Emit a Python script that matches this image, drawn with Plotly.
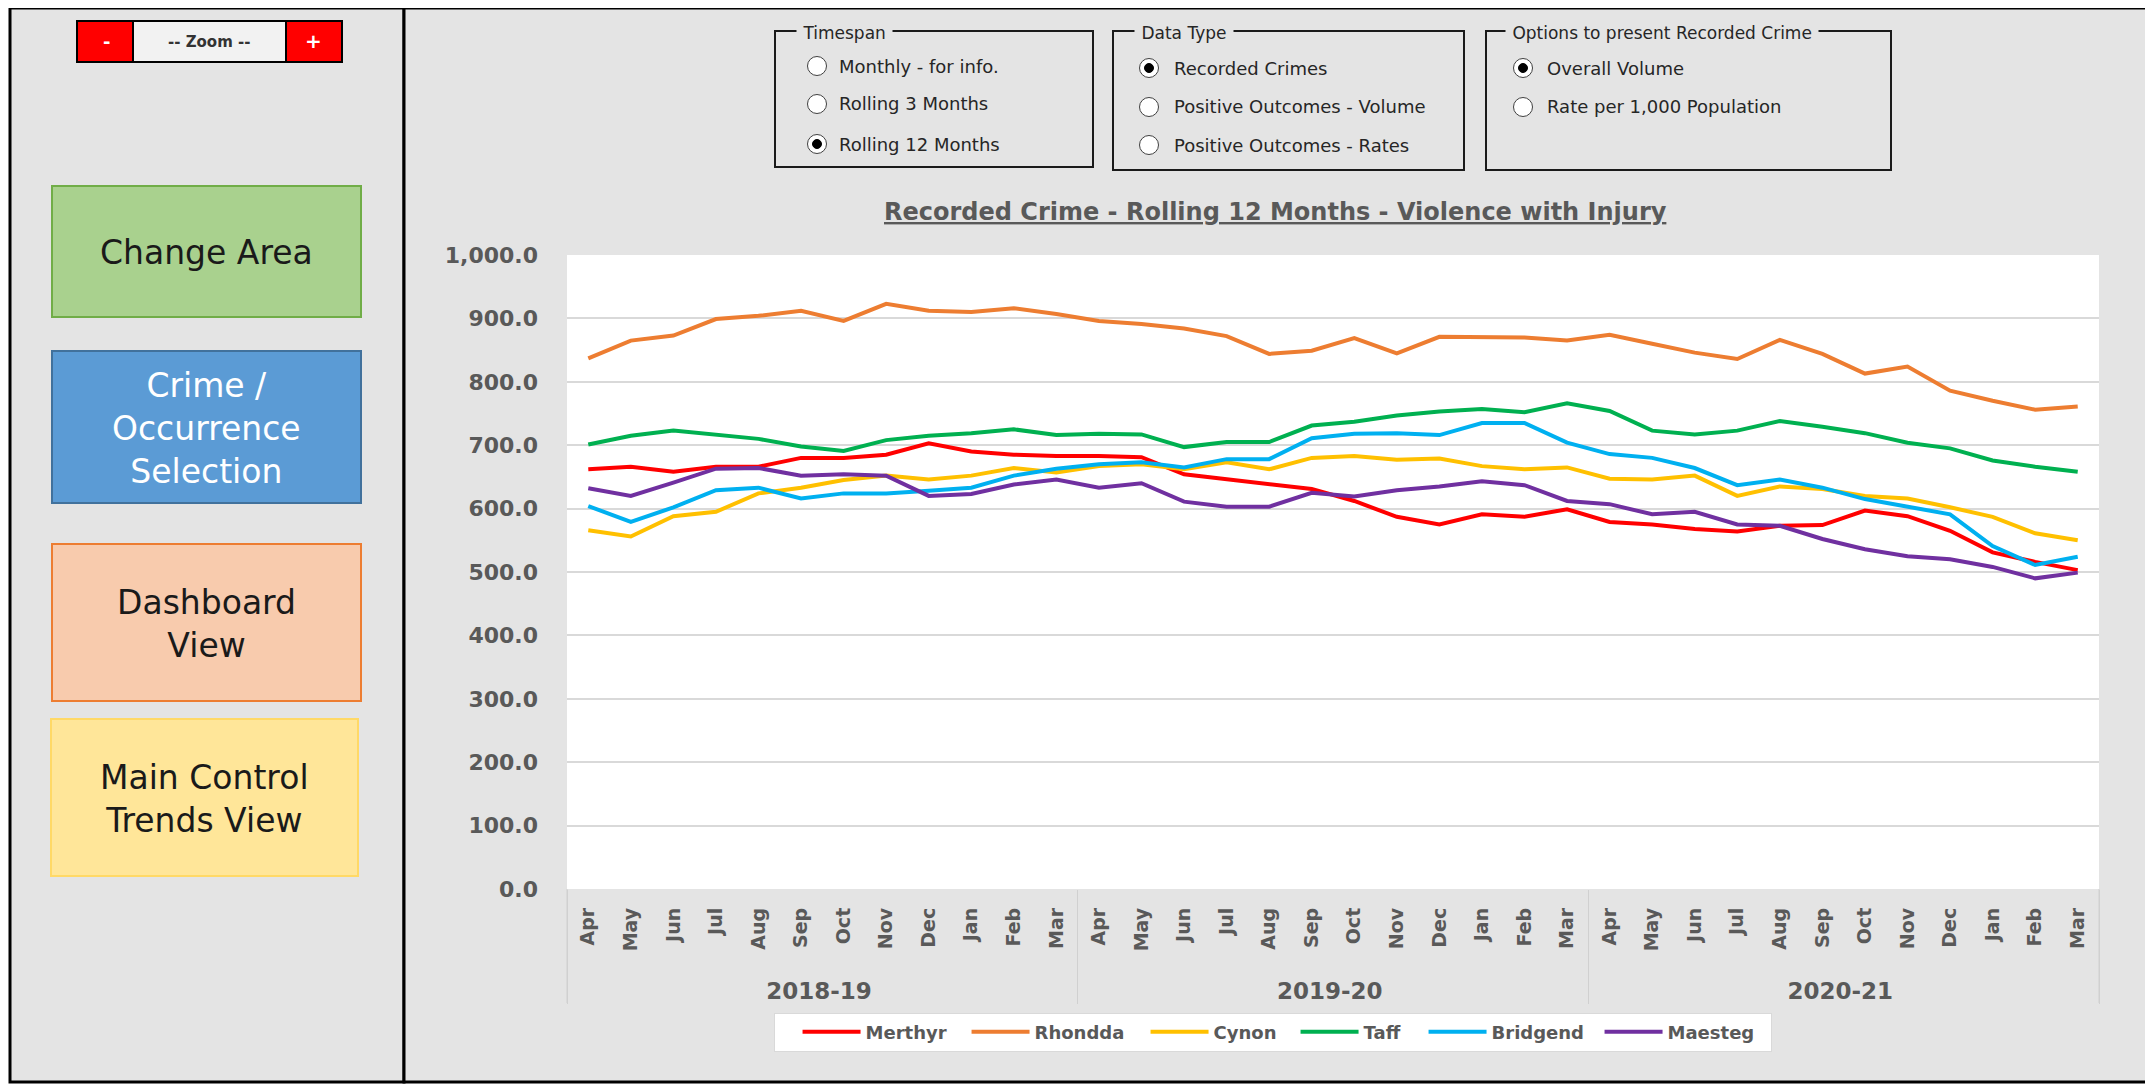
import plotly.graph_objects as go

# ---------------- data ----------------
months = ["Apr", "May", "Jun", "Jul", "Aug", "Sep", "Oct", "Nov", "Dec", "Jan", "Feb", "Mar"]
years = ["2018-19", "2019-20", "2020-21"]

merthyr = [662, 666, 658, 666, 666, 680, 680, 685, 703, 690, 685, 683,
           683, 681, 654, 646, 638, 631, 612, 587, 575, 591, 587, 599,
           579, 575, 568, 564, 573, 574, 597, 588, 565, 531, 516, 503]
rhondda = [837, 865, 873, 899, 904, 912, 896, 923, 912, 910, 916, 907,
           896, 891, 884, 872, 844, 849, 869, 845, 871, 871, 870, 865,
           874, 860, 846, 836, 866, 844, 813, 824, 786, 770, 756, 761]
cynon = [566, 556, 588, 595, 624, 633, 645, 652, 646, 652, 664, 657,
         667, 670, 662, 673, 662, 680, 683, 677, 679, 667, 662, 665,
         647, 646, 652, 620, 635, 631, 620, 616, 602, 587, 561, 550]
taff = [701, 715, 723, 717, 710, 698, 691, 708, 715, 719, 725, 716,
        718, 717, 697, 705, 705, 731, 737, 747, 753, 757, 752, 766,
        754, 723, 717, 723, 738, 729, 719, 704, 695, 676, 666, 658]
bridgend = [604, 579, 602, 629, 633, 616, 624, 624, 628, 633, 652, 663,
            670, 673, 665, 678, 678, 711, 718, 719, 716, 735, 735, 704,
            686, 680, 664, 637, 646, 633, 615, 603, 591, 541, 511, 524]
maesteg = [632, 620, 641, 663, 664, 652, 654, 652, 620, 623, 638, 646,
           633, 640, 611, 603, 603, 625, 619, 629, 635, 643, 637, 612,
           607, 591, 595, 575, 573, 552, 536, 525, 520, 508, 490, 499]

series_names = ["Merthyr", "Rhondda", "Cynon", "Taff", "Bridgend", "Maesteg"]
series_values = [merthyr, rhondda, cynon, taff, bridgend, maesteg]
series_colors = ["#FF0000", "#ED7D31", "#FFC000", "#00B050", "#00B0F0", "#7030A0"]
legend_entry_widths = [96, 106, 77, 55, 103, 98]   # legend spacing (px), styling only

chart_title = "Recorded Crime - Rolling 12 Months - Violence with Injury"

# ---------------- geometry (reference pixels) ----------------
OFF = 8                       # page body margin offset
W, H = 2153 - OFF, 1086 - OFF
PL, PR, PT, PB = 567, 2099, 255, 889      # plot area in reference pixels
PW, PH = PR - PL, PB - PT


def px(x):
    return (x - PL) / PW


def py(y):
    return (PB - y) / PH


FONT = "DejaVu Sans"
GREY_TXT = "#595959"
PANEL = "#E4E4E4"

x_years = ['<br><span style="font-size:23px">%s</span>' % yr for yr in years for _ in months]
x_months = months * len(years)
n_cat = len(x_months)

fig = go.Figure()
for name, vals, col, lw in zip(series_names, series_values, series_colors, legend_entry_widths):
    fig.add_trace(go.Scatter(
        x=[x_years, x_months], y=vals, name=name, mode="lines",
        line=dict(color=col, width=4), legendwidth=lw,
    ))

shapes = []
annotations = []


def rect(x0, y0, x1, y1, fill, line_color=None, line_width=0, layer="below"):
    shapes.append(dict(type="rect", xref="paper", yref="paper",
                       x0=px(x0), x1=px(x1), y0=py(y1), y1=py(y0),
                       fillcolor=fill, layer=layer,
                       line=dict(color=line_color or fill, width=line_width)))


def circle(cx, cy, r, fill, line_color, line_width=1):
    shapes.append(dict(type="circle", xref="paper", yref="paper",
                       x0=px(cx - r), x1=px(cx + r), y0=py(cy + r), y1=py(cy - r),
                       fillcolor=fill, layer="above",
                       line=dict(color=line_color, width=line_width)))


def text(x, y, s, size, color="#000000", weight="normal", xanchor="center", bg=None):
    a = dict(xref="paper", yref="paper", x=px(x), y=py(y), text=s, showarrow=False,
             xanchor=xanchor, yanchor="middle",
             font=dict(family=FONT, size=size, color=color, weight=weight))
    if bg:
        a["bgcolor"] = bg
    annotations.append(a)


# panels / frame
rect(10, 8, 404, 1082, PANEL, "#000000", 3)
rect(404, 8, 2149, 1082, PANEL, "#000000", 3)
# plot area background
rect(PL, PT, PR, PB, "#FFFFFF")
# outer edges of the category axis band
for xe in (0, 1):
    shapes.append(dict(type="line", xref="paper", yref="paper", x0=xe, x1=xe,
                       y0=py(1003), y1=0, line=dict(color="#D0D0D0", width=1), layer="below"))

# zoom control
rect(77, 21, 342, 62, "#F2F2F2", "#000000", 2)
rect(78, 22, 133, 61, "#FF0000", "#FF0000", 0)
rect(286, 22, 341, 61, "#FF0000", "#FF0000", 0)
for xx in (133, 286):
    shapes.append(dict(type="line", xref="paper", yref="paper", x0=px(xx), x1=px(xx),
                       y0=py(62), y1=py(21), line=dict(color="#000000", width=2), layer="below"))
text(106, 41, "<b>-</b>", 18, "#FFFFFF", "bold")
text(313, 41, "<b>+</b>", 20, "#FFFFFF", "bold")
text(209, 42, "-- Zoom --", 15, "#333333", "bold")

# navigation buttons
buttons = [
    (52, 186, 361, 317, "#A9D18E", "#70AD47", "Change Area", "#1A1A1A"),
    (52, 351, 361, 503, "#5B9BD5", "#41719C", "Crime /<br>Occurrence<br>Selection", "#FFFFFF"),
    (52, 544, 361, 701, "#F8CBAD", "#ED7D31", "Dashboard<br>View", "#1A1A1A"),
    (51, 719, 358, 876, "#FFE699", "#FFD966", "Main Control<br>Trends View", "#1A1A1A"),
]
for x0, y0, x1, y1, fill, border, label, tcol in buttons:
    rect(x0, y0, x1, y1, fill, border, 2)
    text((x0 + x1) / 2, (y0 + y1) / 2 + 1, label, 33, tcol)

# option group boxes
groups = [
    (775, 31, 1093, 167, "Timespan", 796, 817, 837,
     [("Monthly - for info.", 66, False), ("Rolling 3 Months", 104, False), ("Rolling 12 Months", 144, True)]),
    (1113, 31, 1464, 170, "Data Type", 1134, 1149, 1172,
     [("Recorded Crimes", 68, True), ("Positive Outcomes - Volume", 107, False), ("Positive Outcomes - Rates", 145, False)]),
    (1486, 31, 1891, 170, "Options to present Recorded Crime", 1505, 1523, 1545,
     [("Overall Volume", 68, True), ("Rate per 1,000 Population", 107, False)]),
]
for x0, y0, x1, y1, title, tx, cx, lx, items in groups:
    rect(x0, y0, x1, y1, "rgba(0,0,0,0)", "#1A1A1A", 2, layer="above")
    text(tx, y0 + 2, "&nbsp;" + title + "&nbsp;", 17, "#262626", xanchor="left", bg=PANEL)
    for label, yy, sel in items:
        circle(cx, yy, 9.5, "#FFFFFF", "#404040", 1)
        if sel:
            circle(cx, yy, 4.5, "#000000", "#000000", 1)
        text(lx, yy, label, 18, "#262626", xanchor="left")

# chart title
text(1275, 212, "<u>" + chart_title + "</u>", 24, GREY_TXT, "bold")

fig.update_layout(
    width=W, height=H,
    margin=dict(l=PL - OFF, r=W - (PR - OFF), t=PT - OFF, b=H - (PB - OFF), autoexpand=False),
    paper_bgcolor="#FFFFFF",
    plot_bgcolor="#FFFFFF",
    font=dict(family=FONT, color=GREY_TXT),
    shapes=shapes,
    annotations=annotations,
    showlegend=True,
    legend=dict(
        orientation="h", x=px(774), xanchor="left", y=py(1032), yanchor="middle",
        bgcolor="#FFFFFF", bordercolor="#D9D9D9", borderwidth=1,
        font=dict(family=FONT, size=18, color=GREY_TXT, weight="bold"),
        itemwidth=58,
        title=dict(text="&nbsp;&nbsp;", side="left",
                   font=dict(family=FONT, size=18, color=GREY_TXT)),
    ),
    xaxis=dict(
        type="multicategory", range=[-0.5, n_cat - 0.5],
        showgrid=False, showline=False, zeroline=False,
        tickangle=-90, ticks="", ticklabelstandoff=14,
        tickfont=dict(family=FONT, size=19, color=GREY_TXT, weight="bold"),
        showdividers=True, dividercolor="#D0D0D0", dividerwidth=1,
    ),
    yaxis=dict(
        range=[0, 1000], dtick=100, tickformat=",.1f",
        showgrid=True, gridcolor="#D9D9D9", gridwidth=1.5,
        zeroline=False, showline=False, ticks="",
        tickfont=dict(family=FONT, size=22, color=GREY_TXT, weight="bold"),
        ticklabelstandoff=28,
    ),
)

fig.write_html("out.html")
